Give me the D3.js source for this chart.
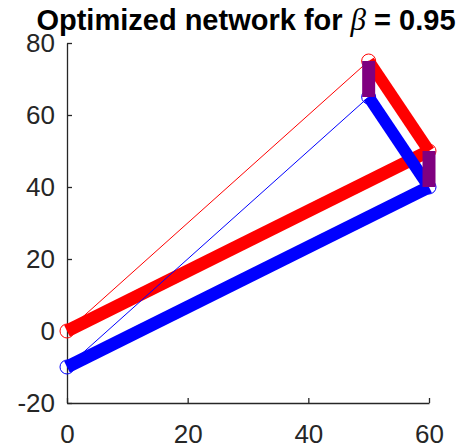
<!DOCTYPE html>
<html>
<head>
<meta charset="utf-8">
<script src="https://cdn.jsdelivr.net/npm/d3@7"></script>
<style>
  body { margin: 0; background: #fff; }
  text { font-family: "Liberation Sans", Arial, sans-serif; }
</style>
</head>
<body>
<svg width="462" height="448"></svg>
<script>
// node positions (same x for both networks)
var nodeX = [0, 50, 60];
var redY = [0, 75, 50];
var blueY = [-10, 65, 40];

// edges: [from node, to node, line width]
var redEdges = [[0, 1, 1], [0, 2, 13], [1, 2, 12]];
var blueEdges = [[0, 1, 1], [0, 2, 13], [1, 2, 12]];

// purple links between red and blue copies of a node
var linkNodes = [1, 2];

var xTicks = [0, 20, 40, 60];
var yTicks = [-20, 0, 20, 40, 60, 80];

var svg = d3.select("svg");
var pLeft = 67, pRight = 429, pTop = 43, pBottom = 403;

var x = d3.scaleLinear().domain([0, 60]).range([pLeft, pRight]);
var y = d3.scaleLinear().domain([-20, 80]).range([pBottom, pTop]);

// axes (plain hyphen for negatives, like matlab)
var xAxis = d3.axisBottom(x).tickValues(xTicks).tickFormat(d => String(d))
  .tickSizeInner(-5).tickSizeOuter(0).tickPadding(22);
var yAxis = d3.axisLeft(y).tickValues(yTicks).tickFormat(d => String(d))
  .tickSizeInner(-5).tickSizeOuter(0).tickPadding(12);

var gx = svg.append("g").attr("transform", "translate(0," + pBottom + ")").call(xAxis);
var gy = svg.append("g").attr("transform", "translate(" + pLeft + ",0)").call(yAxis);
[gx, gy].forEach(function(g){
  g.select(".domain").attr("stroke", "#262626").attr("stroke-width", 1.3);
  g.selectAll(".tick line").attr("stroke", "#262626").attr("stroke-width", 1.3);
  g.selectAll(".tick text").attr("fill", "#262626").style("font-size", "26px")
    .style("font-family", "'Liberation Sans', Arial, sans-serif");
});

function drawNet(ys, edges, col)
{
  var g = svg.append("g");
  g.selectAll("circle").data(nodeX).enter().append("circle")
    .attr("cx", d => x(d))
    .attr("cy", (d, i) => y(ys[i]))
    .attr("r", 7)
    .attr("fill", "none")
    .attr("stroke", col)
    .attr("stroke-width", 1);
  g.selectAll("line").data(edges.slice().sort((a, b) => a[2] - b[2])).enter().append("line")
    .attr("x1", d => x(nodeX[d[0]]))
    .attr("y1", d => y(ys[d[0]]))
    .attr("x2", d => x(nodeX[d[1]]))
    .attr("y2", d => y(ys[d[1]]))
    .attr("stroke", col)
    .attr("stroke-width", d => d[2]);
}

drawNet(redY, redEdges, "#ff0000");
drawNet(blueY, blueEdges, "#0000ff");

svg.append("g").selectAll("line").data(linkNodes).enter().append("line")
  .attr("x1", d => x(nodeX[d]))
  .attr("x2", d => x(nodeX[d]))
  .attr("y1", d => y(redY[d]))
  .attr("y2", d => y(blueY[d]))
  .attr("stroke", "#800080")
  .attr("stroke-width", 13);

// title
var title = svg.append("text")
  .attr("x", 246)
  .attr("y", 30)
  .attr("text-anchor", "middle")
  .style("font-size", "29px")
  .style("font-weight", "bold")
  .attr("fill", "#000");
title.append("tspan").text("Optimized network for ");
title.append("tspan").text("β").style("font-family", "'Liberation Serif', 'Times New Roman', serif")
  .style("font-style", "italic").style("font-weight", "normal").style("font-size", "31px");
title.append("tspan").text(" = 0.95");
</script>
</body>
</html>
